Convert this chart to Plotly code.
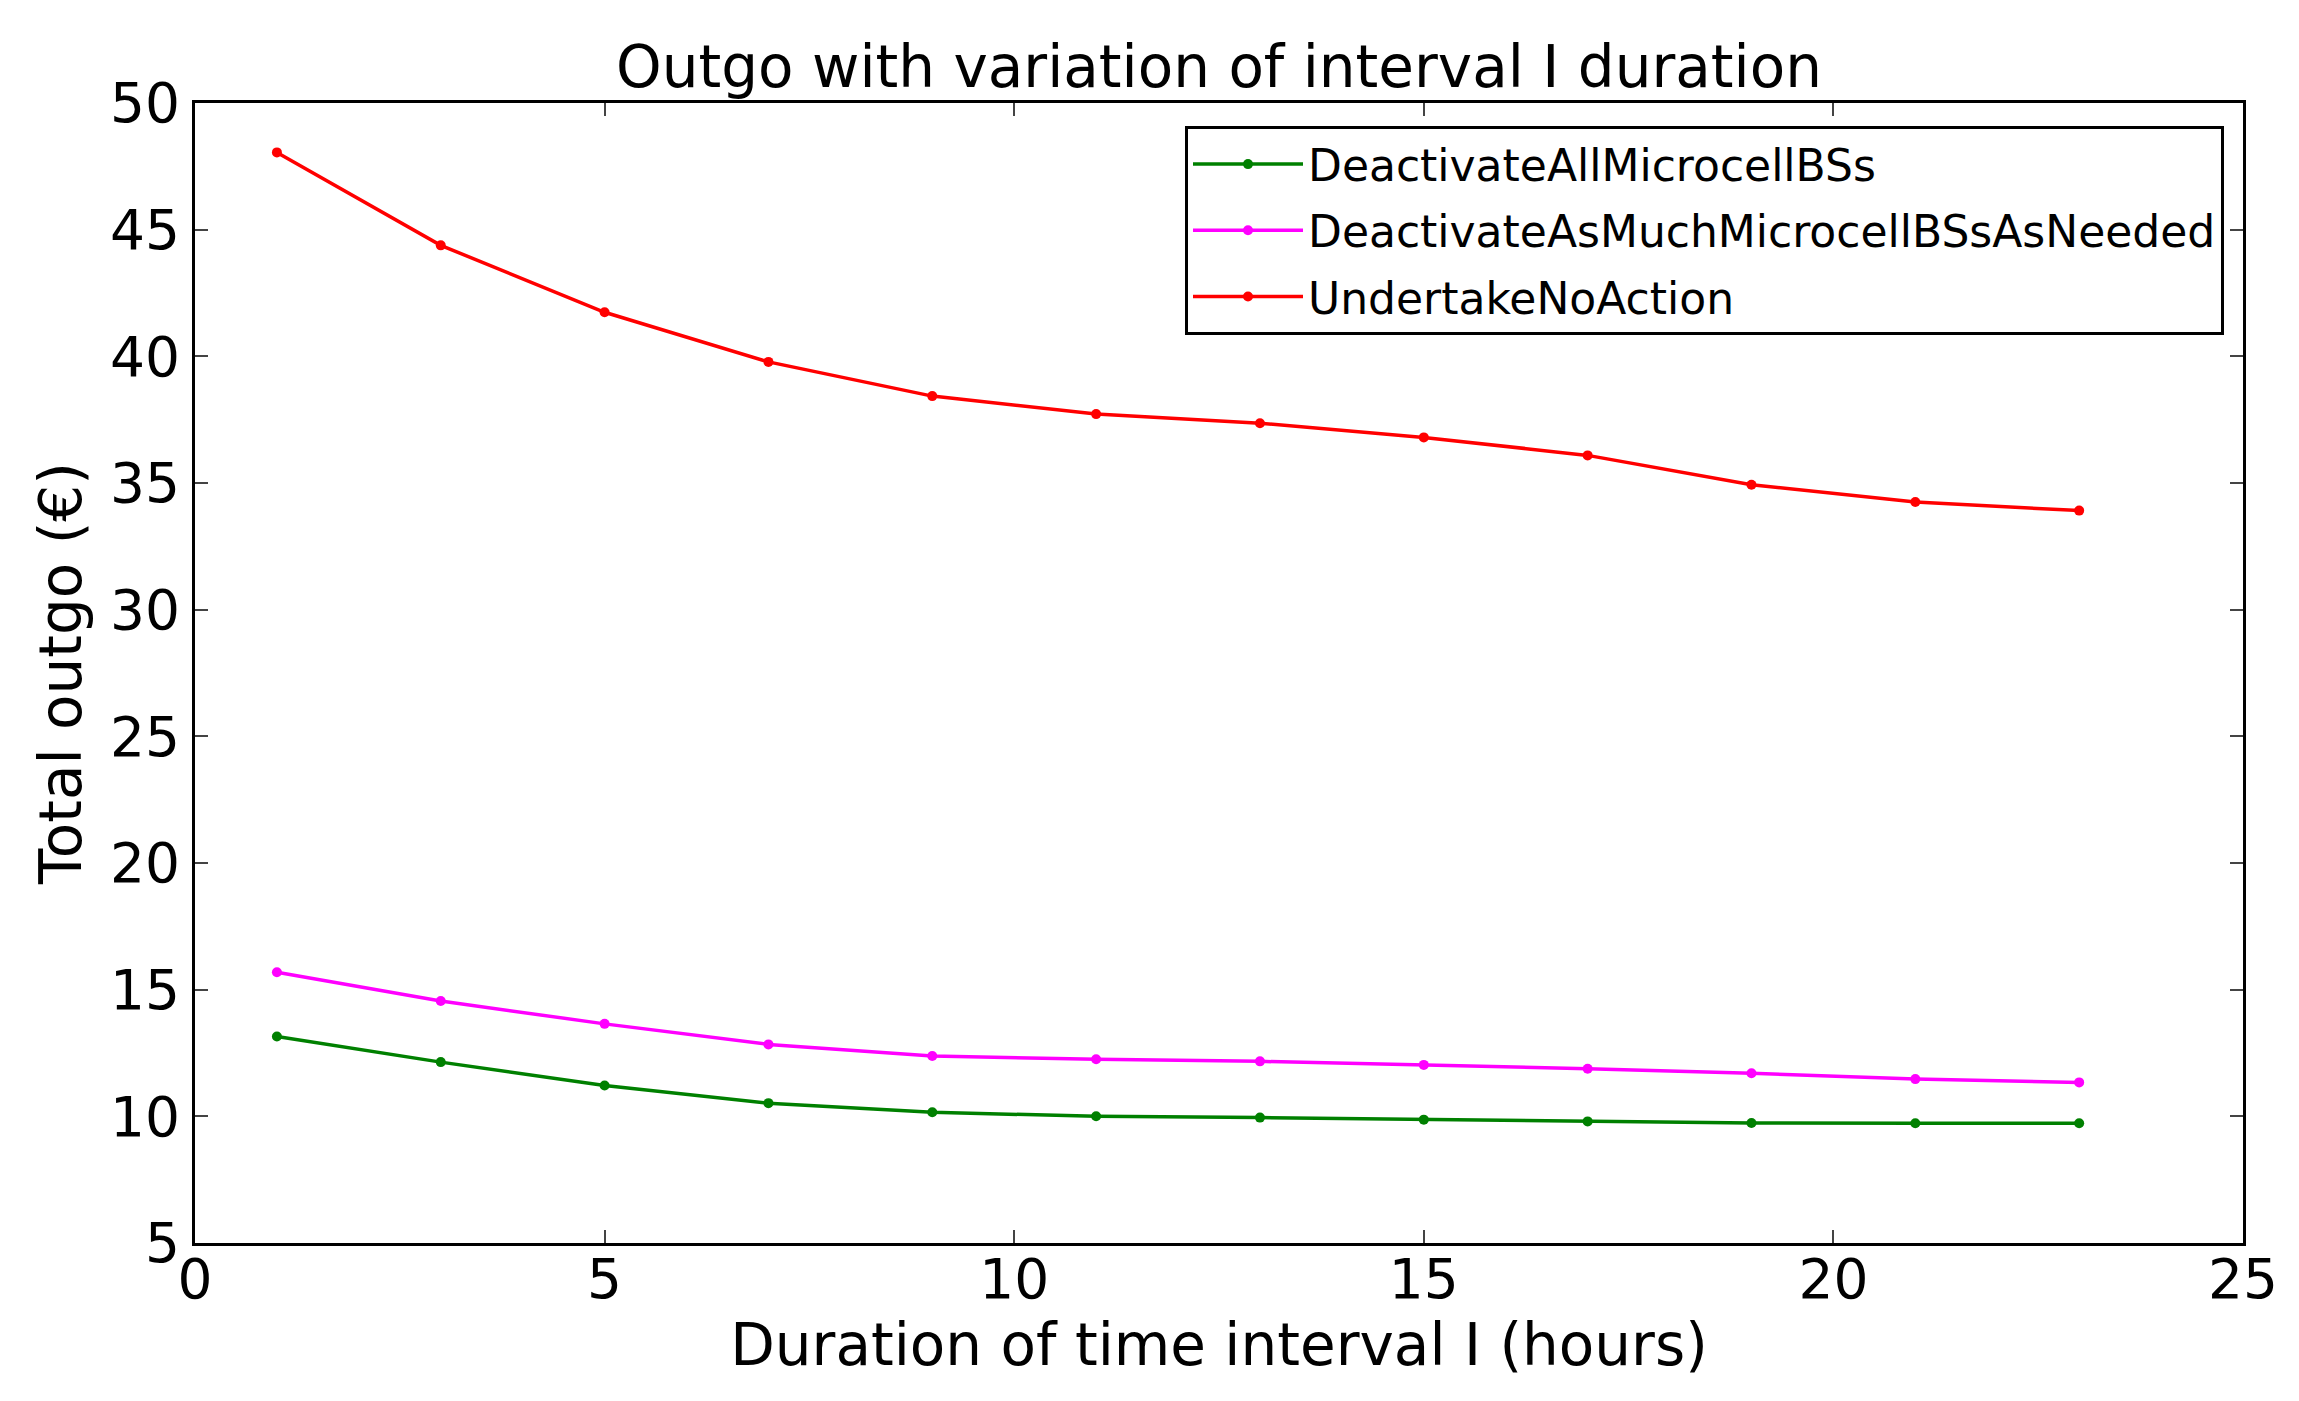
import plotly.graph_objects as go

hours = [1, 3, 5, 7, 9, 11, 13, 15, 17, 19, 21, 23]
deactivate_all = [13.15, 12.14, 11.22, 10.52, 10.16, 10.0, 9.95, 9.87, 9.80, 9.74, 9.73, 9.73]
deactivate_needed = [15.69, 14.55, 13.65, 12.84, 12.38, 12.25, 12.17, 12.03, 11.88, 11.70, 11.47, 11.34]
no_action = [48.05, 44.38, 41.74, 39.78, 38.43, 37.72, 37.36, 36.80, 36.09, 34.93, 34.25, 33.91]

series_names = ["DeactivateAllMicrocellBSs", "DeactivateAsMuchMicrocellBSsAsNeeded", "UndertakeNoAction"]
series_values = [deactivate_all, deactivate_needed, no_action]
series_colors = ["#008000", "#FF00FF", "#FF0000"]

x_ticks = [0, 5, 10, 15, 20, 25]
y_ticks = [5, 10, 15, 20, 25, 30, 35, 40, 45, 50]

FONT = "DejaVu Sans"

fig = go.Figure()
for name, vals, col in zip(series_names, series_values, series_colors):
    fig.add_trace(go.Scatter(
        x=hours, y=vals, name=name, mode="lines+markers",
        legendgroup=name,
        line=dict(color=col, width=3.5),
        marker=dict(color=col, size=10, symbol="circle"),
    ))

W, H = 2299, 1401
OFF = 8  # page body margin
L, R, T, B = 195 - OFF, 2243 - OFF, 103 - OFF, 1243 - OFF

axis_common = dict(
    showline=True, linecolor="black", linewidth=3, mirror="ticks",
    ticks="inside", ticklen=13, tickwidth=1.5, tickcolor="#444",
    showgrid=False, zeroline=False,
    tickfont=dict(family=FONT, size=55, color="black"),
)

fig.update_layout(
    width=W, height=H,
    margin=dict(l=L, r=W - R, t=T, b=H - B),
    paper_bgcolor="white", plot_bgcolor="white",
    font=dict(family=FONT, color="black"),
    title=dict(text="Outgo with variation of interval I duration",
               font=dict(family=FONT, size=58, color="black"),
               x=(L + R) / 2 / W, xanchor="center",
               y=1 - 59 / H, yanchor="middle"),
    xaxis=dict(range=[0, 25], tickvals=x_ticks, ticklabelstandoff=-14,
               title=dict(text="Duration of time interval I (hours)",
                          font=dict(family=FONT, size=58, color="black"), standoff=12),
               **axis_common),
    yaxis=dict(range=[5, 50], tickvals=y_ticks, ticklabelstandoff=1,
               title=dict(text="Total outgo (€)",
                          font=dict(family=FONT, size=58, color="black"), standoff=10),
               **axis_common),
    legend=dict(
        x=(2224 - OFF - L) / (R - L), xanchor="right",
        y=(B - (126 - OFF)) / (B - T), yanchor="top",
        bordercolor="black", borderwidth=3, bgcolor="white",
        font=dict(family=FONT, size=44, color="black"),
        itemwidth=110, tracegroupgap=6, traceorder="grouped",
    ),
)

fig.write_html("out.html")
